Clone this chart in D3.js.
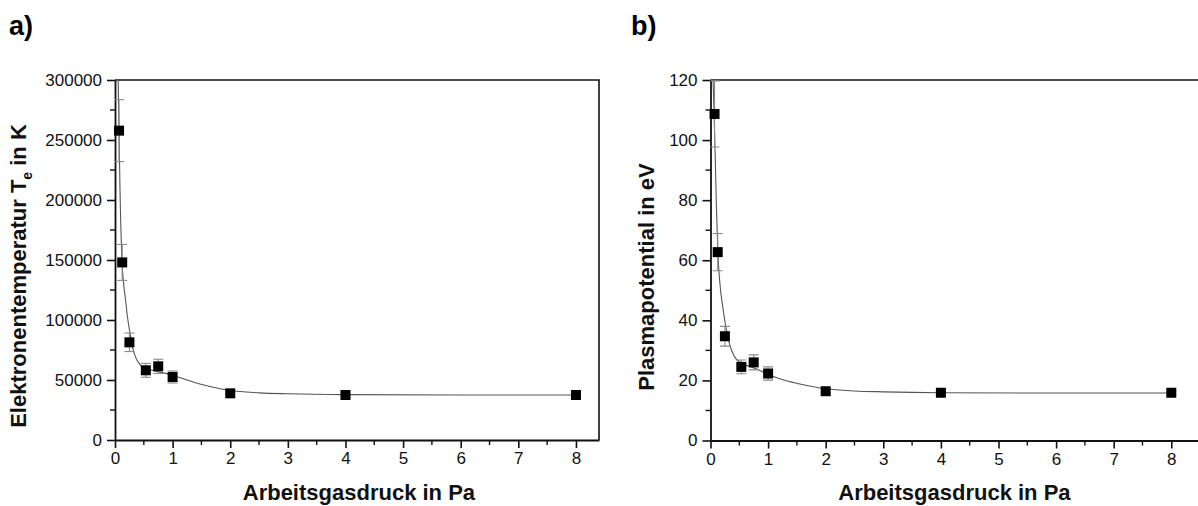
<!DOCTYPE html>
<html><head><meta charset="utf-8">
<script src="https://cdn.jsdelivr.net/npm/d3@7"></script>
<style>
html,body{margin:0;padding:0;background:#fff;}
svg{display:block;font-family:"Liberation Sans",Arial,sans-serif;}
</style></head>
<body><svg id="chart" width="1198" height="506"></svg>
<script>
// ---- data ----
const pressure = [0.07, 0.125, 0.25, 0.535, 0.75, 1, 2, 4, 8];
const tempK = [257800, 148000, 81400, 58100, 61400, 52500, 38900, 37500, 37500];
const tempErr = [25800, 15000, 7700, 5800, 5900, 5000, 1200, 1000, 1000];
const plasmaV = [108.7, 62.7, 34.7, 24.5, 26.0, 22.3, 16.4, 15.9, 15.9];
const plasmaErr = [11, 6.2, 3.3, 2.3, 2.5, 2.2, 0.6, 0.5, 0.5];
// fit curves
const fitAx = [0.055,0.07,0.087,0.1,0.12,0.15,0.185,0.21,0.26,0.3,0.376,0.45,0.53,0.75,1.0,1.25,1.47,1.75,2,2.5,3,4,6,8];
const fitAy = [300000,258000,208000,180000,150000,130000,116000,105000,89000,78000,67000,62000,59700,57000,54000,50000,46700,43500,41200,39300,38500,37800,37500,37500];
const fitBx = [0.045,0.06,0.08,0.1,0.127,0.16,0.22,0.3,0.45,0.6,0.75,1.0,1.3,1.55,2,2.5,3,4,6,8];
const fitBy = [120,110,96,80,63,53,43.5,34.5,27,25.2,24.2,22,20,18.8,17.2,16.5,16.2,15.9,15.8,15.8];
const xTicks = [0,1,2,3,4,5,6,7,8];
const yTicksA = [0,50000,100000,150000,200000,250000,300000];
const yTicksB = [0,20,40,60,80,100,120];

const svg = d3.select("#chart");

function panel(o){
  const g = svg.append("g");
  const x = d3.scaleLinear().domain(o.xDomain).range([o.left, o.right]);
  const y = d3.scaleLinear().domain(o.yDomain).range([o.bottom, o.top]);
  const clipId = "clip" + o.id;
  svg.append("clipPath").attr("id", clipId).append("rect")
    .attr("x", o.left).attr("y", o.top).attr("width", o.right - o.left).attr("height", o.bottom - o.top);

  // frame
  g.append("path").attr("d", `M${o.left},${o.top}H${o.right}V${o.bottom}`)
    .attr("fill","none").attr("stroke","#111").attr("stroke-width",1.6);

  // minor ticks
  const xMinor = d3.range(0.5, o.xDomain[1], 1);
  g.append("g").selectAll("line").data(xMinor).join("line")
    .attr("x1", d=>x(d)).attr("x2", d=>x(d)).attr("y1", o.bottom).attr("y2", o.bottom+5)
    .attr("stroke","#111").attr("stroke-width",1.4);
  g.append("g").selectAll("line").data(o.yMinor).join("line")
    .attr("y1", d=>y(d)).attr("y2", d=>y(d)).attr("x1", o.left).attr("x2", o.left-5)
    .attr("stroke","#111").attr("stroke-width",1.4);

  const xa = g.append("g").attr("transform",`translate(0,${o.bottom})`)
    .call(d3.axisBottom(x).tickValues(xTicks).tickFormat(d3.format("d")).tickSize(8).tickPadding(4).tickSizeOuter(0));
  const ya = g.append("g").attr("transform",`translate(${o.left},0)`)
    .call(d3.axisLeft(y).tickValues(o.yTicks).tickFormat(d3.format("d")).tickSize(8).tickPadding(5).tickSizeOuter(0));
  [xa, ya].forEach(a=>{
    a.select(".domain").attr("stroke","#111").attr("stroke-width",1.8);
    a.selectAll(".tick line").attr("stroke","#111").attr("stroke-width",1.6);
    a.selectAll("text").attr("font-size",17).attr("fill","#111")
      .attr("font-family",'"Liberation Sans",Arial,sans-serif');
  });

  // fit curve
  const line = d3.line().x(d=>x(d[0])).y(d=>y(d[1])).curve(d3.curveMonotoneX);
  g.append("path").datum(d3.zip(o.fitX, o.fitY)).attr("d", line)
    .attr("clip-path", `url(#${clipId})`)
    .attr("fill","none").attr("stroke","#555").attr("stroke-width",1.1);

  // error bars
  const pts = d3.zip(pressure, o.vals, o.errs);
  const eb = g.append("g").attr("stroke","#8a8a8a").attr("stroke-width",1.1).attr("clip-path", `url(#${clipId})`);
  eb.selectAll("line.v").data(pts).join("line").attr("class","v")
    .attr("x1",d=>x(d[0])).attr("x2",d=>x(d[0])).attr("y1",d=>y(d[1]+d[2])).attr("y2",d=>y(d[1]-d[2]));
  eb.selectAll("line.t").data(pts).join("line").attr("class","t")
    .attr("x1",d=>x(d[0])-5).attr("x2",d=>x(d[0])+5).attr("y1",d=>y(d[1]+d[2])).attr("y2",d=>y(d[1]+d[2]));
  eb.selectAll("line.b").data(pts).join("line").attr("class","b")
    .attr("x1",d=>x(d[0])-5).attr("x2",d=>x(d[0])+5).attr("y1",d=>y(d[1]-d[2])).attr("y2",d=>y(d[1]-d[2]));

  // markers
  g.append("g").selectAll("rect").data(pts).join("rect")
    .attr("x",d=>x(d[0])-5).attr("y",d=>y(d[1])-5).attr("width",10).attr("height",10)
    .attr("fill","#000");

  // axis titles
  g.append("text").attr("x",(o.left + o.left + 57.6*8.4)/2 + 2).attr("y",500)
    .attr("text-anchor","middle").attr("font-size",22).attr("font-weight","bold").attr("fill","#111")
    .text("Arbeitsgasdruck in Pa");
  const yt = g.append("text").attr("transform",`translate(${o.yTitleX},${o.yTitleY}) rotate(-90)`)
    .attr("text-anchor","middle").attr("font-size",22).attr("font-weight","bold").attr("fill","#111");
  o.yTitle(yt);

  svg.append("text").attr("x",o.labelX).attr("y",35).attr("font-size",27).attr("font-weight","bold")
    .attr("fill","#000").text(o.label);
}

panel({
  id:"a", left:115, right:599, top:80, bottom:440, xDomain:[0,8.4], yDomain:[0,300000],
  yTicks:yTicksA, yMinor:d3.range(25000,300000,50000),
  vals:tempK, errs:tempErr, fitX:fitAx, fitY:fitAy,
  yTitleX:26, yTitleY:276, label:"a)", labelX:9,
  yTitle:t=>{
    t.append("tspan").text("Elektronentemperatur T");
    t.append("tspan").attr("font-size",14).attr("dy",6).text("e");
    t.append("tspan").attr("dy",-6).text(" in K");
  }
});
panel({
  id:"b", left:710.5, right:1204, top:80, bottom:440.5, xDomain:[0,(1204-710.5)/57.6], yDomain:[0,120],
  yTicks:yTicksB, yMinor:d3.range(10,120,20),
  vals:plasmaV, errs:plasmaErr, fitX:fitBx, fitY:fitBy,
  yTitleX:654, yTitleY:277, label:"b)", labelX:631,
  yTitle:t=>{ t.text("Plasmapotential in eV"); }
});
</script>
</body></html>
